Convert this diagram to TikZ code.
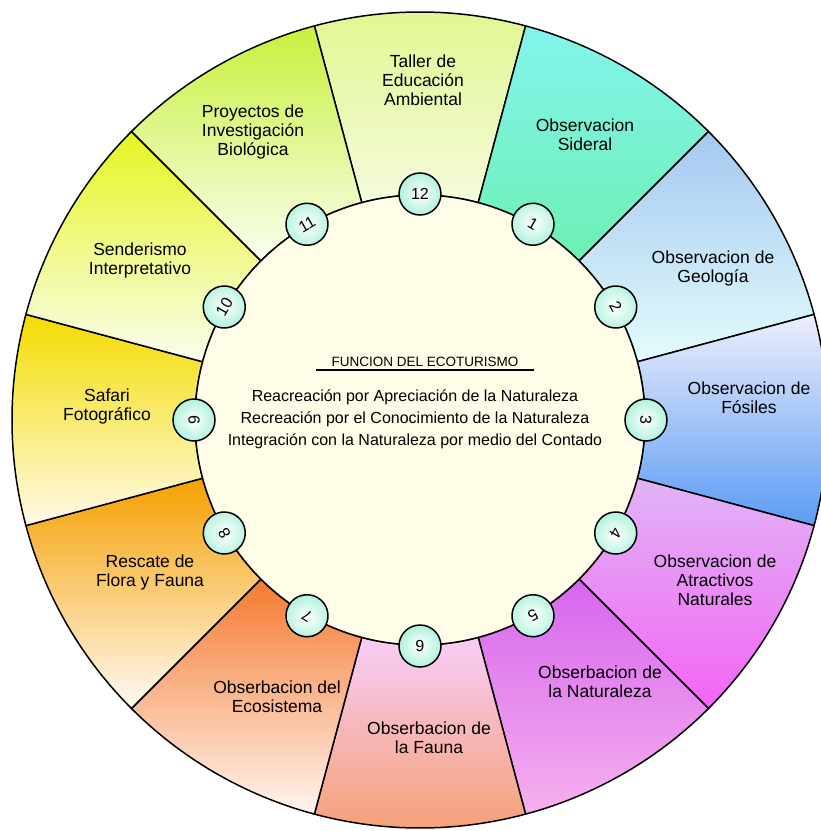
\documentclass[tikz,border=0pt]{standalone}
\usepackage{fontspec}
\setmainfont{Liberation Sans}

\definecolor{tallerA}{HTML}{E2F790}
\definecolor{tallerB}{HTML}{F4FBDC}
\definecolor{siderA}{HTML}{84F4EC}
\definecolor{siderB}{HTML}{6CF0B4}
\definecolor{geoA}{HTML}{A4C8F0}
\definecolor{geoB}{HTML}{E4FCFC}
\definecolor{fosA}{HTML}{EEEEFC}
\definecolor{fosB}{HTML}{5A9CF4}
\definecolor{atrA}{HTML}{E0B4F6}
\definecolor{atrB}{HTML}{F464F4}
\definecolor{natA}{HTML}{D666EE}
\definecolor{natB}{HTML}{F6B0EE}
\definecolor{faunaA}{HTML}{F8CCF8}
\definecolor{faunaB}{HTML}{F6A074}
\definecolor{ecoA}{HTML}{F57A30}
\definecolor{ecoB}{HTML}{FFF5F0}
\definecolor{rescA}{HTML}{F5A000}
\definecolor{rescB}{HTML}{FFFAF4}
\definecolor{safA}{HTML}{F4DC00}
\definecolor{safB}{HTML}{FFFAE8}
\definecolor{sendA}{HTML}{E6F520}
\definecolor{sendB}{HTML}{FAFDF0}
\definecolor{proyA}{HTML}{C8F03C}
\definecolor{proyB}{HTML}{FAFFF0}
\definecolor{core}{HTML}{FFFDE8}
\definecolor{numcol}{HTML}{B0F2DC}

\begin{document}
\begin{tikzpicture}[x=1pt, y=1pt,
  seg/.style={draw, line width=1.5pt},
  lbl/.style={align=center, font=\fontsize{17.5}{19}\selectfont},
  num/.style={circle, draw, line width=1.5pt, inner color=white, outer color=numcol,
    minimum size=42pt, inner sep=0pt, font=\fontsize{16}{16}\selectfont}]

  \useasboundingbox (-420,-411) rectangle (401,420);

  \def\rin{225}
  \def\rout{408}

  % ring of activities
  \foreach \a/\ct/\cb in {90/tallerA/tallerB, 60/siderA/siderB, 30/geoA/geoB,
      0/fosA/fosB, -30/atrA/atrB, -60/natA/natB, -90/faunaA/faunaB,
      -120/ecoA/ecoB, -150/rescA/rescB, 180/safA/safB, 150/sendA/sendB,
      120/proyA/proyB}
    \draw[seg, top color=\ct, bottom color=\cb]
      (\a-15:\rin) arc[start angle=\a-15, end angle=\a+15, radius=\rin]
      -- (\a+15:\rout) arc[start angle=\a+15, end angle=\a-15, radius=\rout]
      -- cycle;

  \draw[line width=1.5pt, fill=core] (0,0) circle[radius=\rin];

  \node[inner xsep=15pt, inner ysep=3pt, font=\fontsize{13.5}{14}\selectfont]
    (title) at (5,58) {FUNCION DEL ECOTURISMO};
  \draw[line width=1.5pt] (title.south west) -- (title.south east);
  \node[align=center, font=\fontsize{16}{22}\selectfont] (funcion) at (-5,1)
    {Reacreación por Apreciación de la Naturaleza\\
     Recreación por el Conocimiento de la Naturaleza\\
     Integración con la Naturaleza por medio del Contado};

  % numbered markers
  \foreach \k in {1,...,12}
    \node[num, rotate=-30*\k] (n\k) at ({90-30*\k}:226) {\k};

  \node[lbl] (taller) at (3,340) {Taller de\\Educación\\Ambiental};
  \node[lbl] (sideral) at (165,285) {Observacion\\Sideral};
  \node[lbl] (geologia) at (293,152) {Observacion de\\Geología};
  \node[lbl] (fosiles) at (329,22) {Observacion de\\Fósiles};
  \node[lbl] (atractivos) at (295,-160) {Observacion de\\Atractivos\\Naturales};
  \node[lbl] (naturaleza) at (180,-262) {Obserbacion de\\la Naturaleza};
  \node[lbl] (fauna) at (9,-318) {Obserbacion de\\la Fauna};
  \node[lbl] (ecosistema) at (-143,-277) {Obserbacion del\\Ecosistema};
  \node[lbl] (rescate) at (-270,-152) {Rescate de\\Flora y Fauna};
  \node[lbl] (safari) at (-313,14) {Safari\\Fotográfico};
  \node[lbl] (senderismo) at (-280,160) {Senderismo\\Interpretativo};
  \node[lbl] (proyectos) at (-167,288) {Proyectos de\\Investigación\\Biológica};

\end{tikzpicture}
\end{document}
